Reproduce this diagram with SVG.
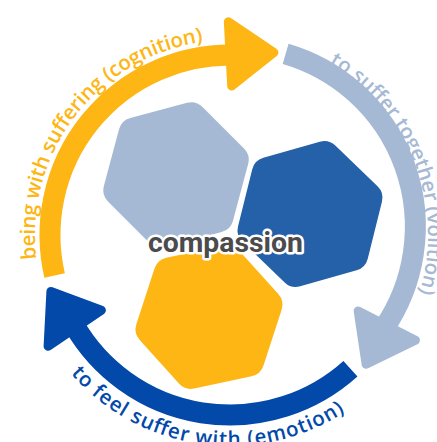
<svg xmlns="http://www.w3.org/2000/svg" width="437" height="442" viewBox="0 0 437 442">
  <style>
    .c-yellow { fill: #fdb614; stroke: #fdb614; }
    .c-pale { fill: #a6b9d4; stroke: #a6b9d4; }
    .c-mid { fill: #2561a8; stroke: #2561a8; }
    .c-deep { fill: #0249aa; stroke: #0249aa; }
    .hex { stroke-width: 32; stroke-linejoin: round; }
    path.band { fill: none; stroke-width: 21; stroke-linecap: butt; }
    .head { stroke-width: 9; stroke-linejoin: round; }
    .arc-label { font-family: "Open Sans", "Noto Sans", sans-serif; font-weight: 600; font-size: 20.5px; }
    .core { font-family: Roboto, "Liberation Sans", sans-serif; font-weight: 700; font-size: 28px; fill: #4b4b4d; stroke: #ffffff; stroke-width: 5; stroke-linejoin: round; paint-order: stroke; }
  </style>
  <defs>
    <!-- rounded triangular arrowhead, local x = direction of travel, y = inward -->
    <path id="head" d="M9.5,-33 L53.4,0 L9.5,31.3 Z"/>
    <!-- baselines for the curved labels around the ring centred at (230,235) -->
    <path id="p-cog" d="M36.45,258.77 A195,195 0 0 1 247,40.74"/>
    <path id="p-vol" d="M329,63.53 A198,198 0 0 1 401.47,334"/>
    <path id="p-emo" d="M70.76,373.43 A211,211 0 0 0 365.63,396.63"/>
  </defs>

  <rect width="437" height="442" fill="#ffffff"/>

  <!-- three rounded hexagons (inner outline + thick round-joined stroke) -->
  <g id="hex-cognition">
    <polygon class="hex c-pale" points="217.50,216.50 160.81,231.70 119.30,190.19 134.50,133.50 191.19,118.30 232.70,159.81"/>
  </g>
  <g id="hex-volition">
    <polygon class="hex c-mid" points="352.22,254.78 295.80,270.95 253.58,230.17 267.78,173.22 324.20,157.05 366.42,197.83"/>
  </g>
  <g id="hex-emotion">
    <polygon class="hex c-yellow" points="248.28,360.62 190.86,372.83 151.59,329.20 169.72,273.38 227.14,261.17 266.41,304.80"/>
  </g>

  <g id="compassion">
    <text class="core" x="225.5" y="252" text-anchor="middle" textLength="155" lengthAdjust="spacingAndGlyphs">compassion</text>
  </g>

  <!-- circular cycle of three arrows -->
  <g id="connectors">
    <path class="band c-yellow" d="M54.61,275.49 A180,180 0 0 1 233.14,55.03"/>
    <use href="#head" class="head c-yellow" transform="translate(220.58,55.25) rotate(357)"/>

    <path class="band c-pale" d="M285.62,53.81 A180,180 0 0 1 384.29,327.71"/>
    <use href="#head" class="head c-pale" transform="translate(390.38,316.72) rotate(117)"/>

    <path class="band c-deep" d="M350.44,368.77 A180,180 0 0 1 74.11,325"/>
    <use href="#head" class="head c-deep" transform="translate(80.77,335.65) rotate(236)"/>
  </g>

  <g id="labels">
    <text class="arc-label" fill="#fdb614"><textPath href="#p-cog" textLength="303" lengthAdjust="spacing">being with suffering (cognition)</textPath></text>
    <text class="arc-label" fill="#a6b9d4"><textPath href="#p-vol" textLength="266" lengthAdjust="spacing">to suffer together (volition)</textPath></text>
    <text class="arc-label" fill="#0249aa"><textPath href="#p-emo" textLength="302" lengthAdjust="spacing">to feel suffer with (emotion)</textPath></text>
  </g>
</svg>
